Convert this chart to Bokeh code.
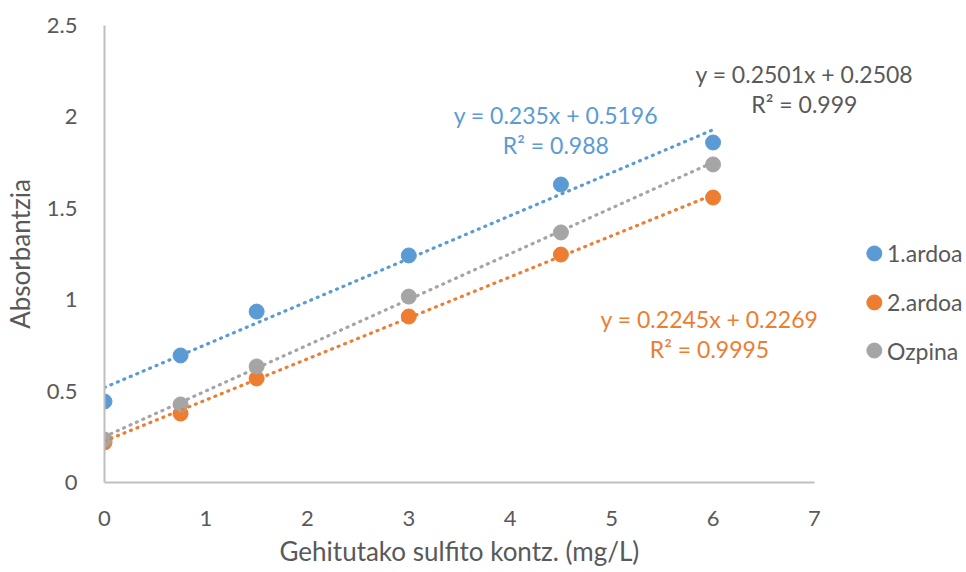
from bokeh.plotting import figure
from bokeh.models import Range1d, Label, FixedTicker, Title
from bokeh.core.properties import value
from bokeh.embed import file_html
from bokeh.resources import INLINE

# ---- data ----
conc = [0, 0.75, 1.5, 3, 4.5, 6]
ardoa1 = [0.443, 0.695, 0.935, 1.242, 1.630, 1.860]
ardoa2 = [0.219, 0.377, 0.569, 0.908, 1.247, 1.559]
ozpina = [0.235, 0.427, 0.635, 1.017, 1.368, 1.740]

series_names = ["1.ardoa", "2.ardoa", "Ozpina"]
slopes = [0.235, 0.2245, 0.2501]
intercepts = [0.5196, 0.2269, 0.2508]
r2 = [0.988, 0.9995, 0.999]
fit_x = [0, 6]

x_ticks = [0, 1, 2, 3, 4, 5, 6, 7]
y_ticks = [0, 0.5, 1, 1.5, 2, 2.5]
x_title = "Gehitutako sulfito kontz. (mg/L)"
y_title = "Absorbantzia"

colors = ["#5B9BD5", "#ED7D31", "#A5A5A5"]
label_colors = ["#5B9BD5", "#ED7D31", "#595959"]
FONT = "Lato"
TXT = "#595959"

# plot area: axis spans 0..7 over 710 px; frame extended to the window's right edge
AXIS_PX = 710
FRAME_W = 863
x_end = 7 * FRAME_W / AXIS_PX

p = figure(width=966, height=572, frame_width=FRAME_W, frame_height=457,
           min_border_left=103, min_border_right=0, min_border_top=25, min_border_bottom=90,
           x_range=Range1d(0, x_end), y_range=Range1d(0, 2.5),
           output_backend="svg", toolbar_location=None)
p.outline_line_color = None
p.grid.visible = False
p.background_fill_color = "white"
p.border_fill_color = "white"

for ax in (p.xaxis[0], p.yaxis[0]):
    ax.axis_line_color = "#BFBFBF"
    ax.axis_line_width = 2
    ax.major_tick_line_color = None
    ax.minor_tick_line_color = None
    ax.major_label_text_color = TXT
    ax.major_label_text_font = FONT
    ax.major_label_text_font_size = "22px"
    ax.axis_label_text_color = TXT
    ax.axis_label_text_font = FONT
    ax.axis_label_text_font_size = "26px"
    ax.axis_label_text_font_style = "normal"

p.xaxis.bounds = (0, 7)
p.xaxis.ticker = FixedTicker(ticks=x_ticks)
p.yaxis.ticker = FixedTicker(ticks=y_ticks)
p.yaxis.major_label_overrides = {0: "0", 0.5: "0.5", 1: "1", 1.5: "1.5", 2: "2", 2.5: "2.5"}
p.yaxis.axis_label = y_title
p.xaxis.major_label_standoff = 22
p.yaxis.major_label_standoff = 21
p.yaxis.axis_label_standoff = 8

# x-axis title centred under the 0..7 axis
p.add_layout(Title(text=x_title, align="left", offset=175, standoff=9,
                   text_font=FONT, text_font_size="26px", text_color=TXT,
                   text_font_style="normal"), "below")

ys = [ardoa1, ardoa2, ozpina]
for yv, c in zip(ys, colors):
    p.scatter(conc, yv, size=15, fill_color=c, line_color=c, marker="circle")

for s, b, c in zip(slopes, intercepts, colors):
    p.line(fit_x, [s * xx + b for xx in fit_x], line_color=c, line_width=3.2,
           line_dash="1 6", line_cap="round")

# equation labels
label_pos = [(4.45, 2.008, 1.844), (5.965, 0.897, 0.733), (6.90, 2.237, 2.073)]
for (lx, ly1, ly2), s, b, rr, lc in zip(label_pos, slopes, intercepts, r2, label_colors):
    p.add_layout(Label(x=lx, y=ly1, text=f"y = {s}x + {b}", text_align="center",
                       text_baseline="middle", text_color=lc, text_font=FONT,
                       text_font_size="23px"))
    p.add_layout(Label(x=lx, y=ly2, text=f"R\u00b2 = {rr}", text_align="center",
                       text_baseline="middle", text_color=lc, text_font=FONT,
                       text_font_size="23px"))

# legend (drawn to the right of the axis)
leg_x = 7.59
leg_ys = [1.253, 0.985, 0.722]
p.scatter([leg_x] * 3, leg_ys, size=15, fill_color=colors, line_color=colors, marker="circle")
p.text([leg_x + 0.125] * 3, leg_ys, text=series_names, text_font=value(FONT),
       text_font_size="23px", text_color=TXT, text_baseline="middle", text_align="left")

open("out.html", "w").write(file_html(p, INLINE))
